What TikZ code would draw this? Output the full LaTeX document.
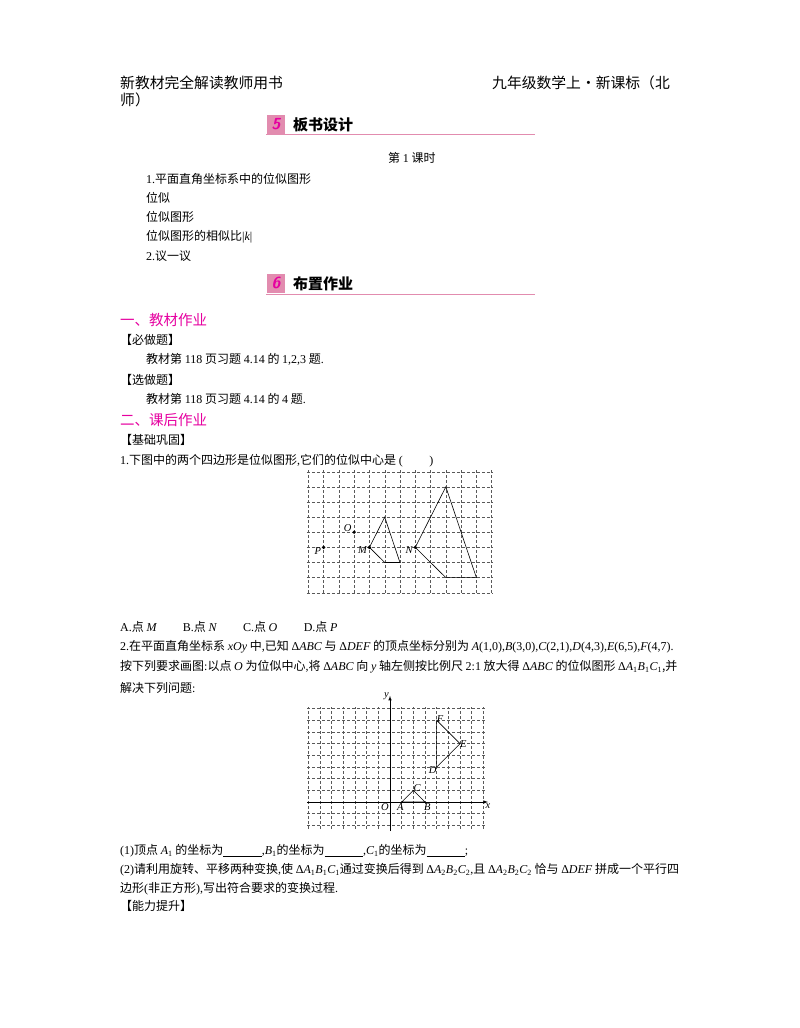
\documentclass[tikz,border=0pt]{standalone}
\usepackage{fontspec}
\usetikzlibrary{positioning}
\setmainfont{Noto Sans CJK SC}
\newfontfamily\lt{Liberation Serif}
\newcommand{\vx}[1]{{\lt\itshape #1}}
\newcommand{\lr}[1]{{\lt #1}}
\definecolor{mag}{RGB}{230,0,160}
\definecolor{pinkl}{RGB}{226,140,175}
\begin{document}
\begin{tikzpicture}[x=1pt,y=-1pt,
  txt/.style={anchor=west,inner sep=0pt,font=\fontsize{12}{13}\selectfont},
  hd/.style={anchor=west,inner sep=0pt,font=\fontsize{14.8}{16}\selectfont},
  sec/.style={anchor=west,inner sep=0pt,font=\fontsize{15}{16}\selectfont\bfseries},
  mg/.style={anchor=west,inner sep=0pt,font=\fontsize{14.5}{15}\selectfont,text=mag},
  gl/.style={densely dashed,gray!70!black,line width=0.4pt},
  fig/.style={line width=0.6pt},
  dot/.style={circle,fill=black,inner sep=1.3pt},
  lab/.style={inner sep=1pt,font=\fontsize{10.5}{10}\selectfont\lt\itshape},
  numbox/.style={fill=pinkl,minimum width=18pt,minimum height=19pt,inner sep=0pt,font=\fontsize{16}{16}\selectfont\sffamily\bfseries\itshape,text=mag}]
\useasboundingbox (0,0) rectangle (800,1028);
\fill[white] (0,0) rectangle (800,1028);
% header
\node[hd] (h1) at (120,83) {新教材完全解读教师用书};
\node[hd] (h2) at (492,83) {九年级数学上·新课标（北};
\node[hd] (h3) at (120,100) {师）};
% section 5
\node[numbox] (n5) at (276,124) {5};
\node[sec] (s5) at (293,125) {板书设计};
\draw[pinkl,line width=1pt] (266,134) -- (535,134);
\node[txt] (t0) at (388,158) {第 \lr{1} 课时};
\node[txt] (t1) at (146,179) {\lr{1.}平面直角坐标系中的位似图形};
\node[txt] (t2) at (146,198) {位似};
\node[txt] (t3) at (146,217) {位似图形};
\node[txt] (t4) at (146,237) {位似图形的相似比\lr{|}\vx{k}\lr{|}};
\node[txt] (t5) at (146,256) {\lr{2.}议一议};
% section 6
\node[numbox] (n6) at (276,283) {6};
\node[sec] (s6) at (293,284) {布置作业};
\draw[pinkl,line width=1pt] (266,294) -- (535,294);
\node[mg] (m1) at (120,320) {一、教材作业};
\node[txt] (b1) at (120,340) {【必做题】};
\node[txt] (b2) at (146,359) {教材第 \lr{118} 页习题 \lr{4.14} 的 \lr{1,2,3} 题\lr{.}};
\node[txt] (b3) at (120,380) {【选做题】};
\node[txt] (b4) at (146,399) {教材第 \lr{118} 页习题 \lr{4.14} 的 \lr{4} 题\lr{.}};
\node[mg] (m2) at (120,420) {二、课后作业};
\node[txt] (c1) at (120,440) {【基础巩固】};
\node[txt] (q1) at (120,461) {\lr{1.}下图中的两个四边形是位似图形\lr{,}它们的位似中心是 \lr{(\hspace{2.2em})}};
% figure 1
\begin{scope}[shift={(308.3pt,-471.7pt)},x=15.28pt,y=-15.13pt]
  \foreach \i in {0,...,12} \draw[gl] (\i,-0.1) -- (\i,8.1);
  \foreach \j in {0,...,8} \draw[gl] (-0.1,\j) -- (12.1,\j);
  \draw[fig] (4,5) -- (5,3) -- (6,6) -- (5,6) -- cycle;
  \draw[fig] (7,5) -- (9,1) -- (11,7) -- (9,7) -- cycle;
  \node[dot] (P) at (1,5) {};
  \node[dot] (O) at (3,4) {};
  \node[dot] (M) at (4,5) {};
  \node[dot] (N) at (7,5) {};
  \node[lab,below left=-2pt and 0pt of P] {P};
  \node[lab,above left=-2pt and 0pt of O] {O};
  \node[lab,below left=-3pt and 0pt of M] {M};
  \node[lab,below left=-3pt and 0pt of N] {N};
\end{scope}
\node[txt] (opt) at (120,627) {\lr{A.}点 \vx{M}\hspace{2.2em}\lr{B.}点 \vx{N}\hspace{2.2em}\lr{C.}点 \vx{O}\hspace{2.2em}\lr{D.}点 \vx{P}};
\node[txt] (q2a) at (120,647) {\lr{2.}在平面直角坐标系 \vx{xOy} 中\lr{,}已知 \lr{Δ}\vx{ABC} 与 \lr{Δ}\vx{DEF} 的顶点坐标分别为 \vx{A}\lr{(1,0),}\vx{B}\lr{(3,0),}\vx{C}\lr{(2,1),}\vx{D}\lr{(4,3),}\vx{E}\lr{(6,5),}\vx{F}\lr{(4,7).}};
\node[txt] (q2b) at (120,667) {按下列要求画图\lr{:}以点 \vx{O} 为位似中心\lr{,}将 \lr{Δ}\vx{ABC} 向 \vx{y} 轴左侧按比例尺 \lr{2:1} 放大得 \lr{Δ}\vx{ABC} 的位似图形 \lr{Δ}\vx{A}\lr{\textsubscript{1}}\vx{B}\lr{\textsubscript{1}}\vx{C}\lr{\textsubscript{1}},并};
\node[txt] (q2c) at (120,688) {解决下列问题\lr{:}};
% figure 2
\begin{scope}[shift={(390pt,-802pt)},x=11.67pt,y=11.67pt]
  \foreach \i in {-7,...,8} \draw[gl] (\i,-2.3) -- (\i,8.1);
  \foreach \j in {-2,...,8} \draw[gl] (-7.1,\j) -- (8.1,\j);
  \coordinate (xs) at (-7.1,0); \coordinate (xe) at (8.4,0);
  \coordinate (ys) at (0,-2.5); \coordinate (ye) at (0,9.1);
  \coordinate (Or) at (0,0);
  \draw[-latex,line width=0.6pt] (xs) -- (xe);
  \draw[-latex,line width=0.6pt] (ys) -- (ye);
  \node[lab,below=0pt of xe] {x};
  \node[lab,left=0pt of ye] {y};
  \coordinate (A) at (1,0); \coordinate (B) at (3,0); \coordinate (C) at (2,1);
  \coordinate (D) at (4,3); \coordinate (E) at (6,5); \coordinate (F) at (4,7);
  \draw[fig] (A) -- (C) -- (B) -- cycle;
  \draw[fig] (D) -- (E) -- (F) -- cycle;
  \node[lab,below left=0pt and 0pt of Or] {O};
  \node[lab,below left=0pt and -3pt of A] {A};
  \node[lab,below right=0pt and -2pt of B] {B};
  \node[lab,above right=-2pt and -1pt of C] {C};
  \node[lab,below left=-2pt and -1pt of D] {D};
  \node[lab,right=-1pt of E] {E};
  \node[lab,above right=-3pt and -1pt of F] {F};
\end{scope}
\node[txt] (a1) at (120,851) {\lr{(1)}顶点 \vx{A}\lr{\textsubscript{1}} 的坐标为\lr{\underline{\hspace{3.2em}},}\vx{B}\lr{\textsubscript{1}}的坐标为\lr{\underline{\hspace{3.2em}},}\vx{C}\lr{\textsubscript{1}}的坐标为\lr{\underline{\hspace{3.2em}};}};
\node[txt] (a2) at (120,870) {\lr{(2)}请利用旋转、平移两种变换\lr{,}使 \lr{Δ}\vx{A}\lr{\textsubscript{1}}\vx{B}\lr{\textsubscript{1}}\vx{C}\lr{\textsubscript{1}}通过变换后得到 \lr{Δ}\vx{A}\lr{\textsubscript{2}}\vx{B}\lr{\textsubscript{2}}\vx{C}\lr{\textsubscript{2}}\lr{,}且 \lr{Δ}\vx{A}\lr{\textsubscript{2}}\vx{B}\lr{\textsubscript{2}}\vx{C}\lr{\textsubscript{2}} 恰与 \lr{Δ}\vx{DEF} 拼成一个平行四};
\node[txt] (a3) at (120,889) {边形\lr{(}非正方形\lr{),}写出符合要求的变换过程\lr{.}};
\node[txt] (c2) at (120,906) {【能力提升】};
\end{tikzpicture}
\end{document}
